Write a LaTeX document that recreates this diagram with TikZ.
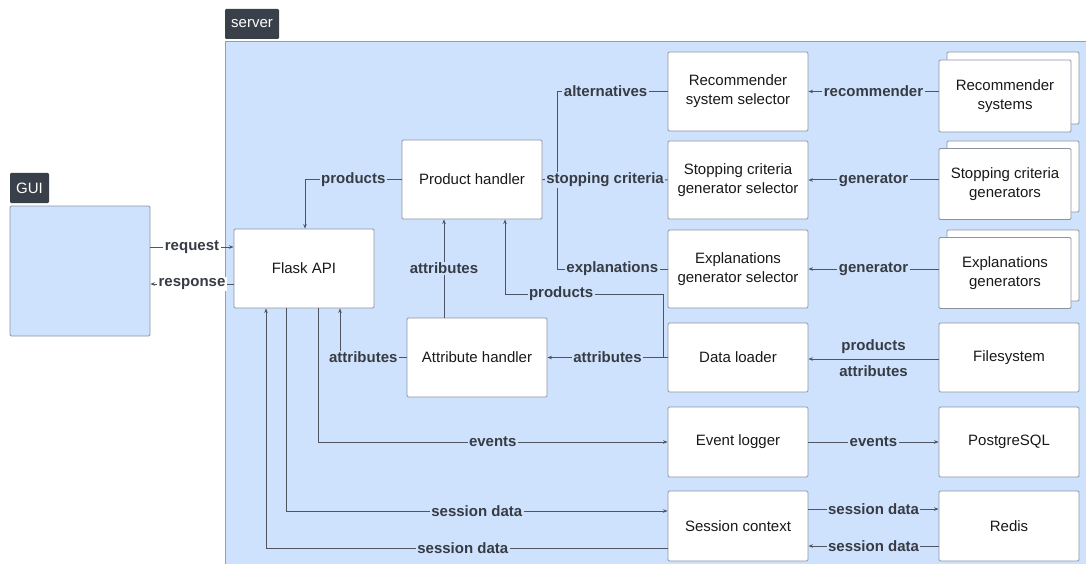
\documentclass[tikz,border=0pt]{standalone}
\usepackage{fontspec}
\setmainfont{Liberation Sans}
\usetikzlibrary{arrows.meta}
\definecolor{bluebg}{RGB}{207,226,253}
\definecolor{tabfill}{RGB}{58,64,74}
\definecolor{frameline}{RGB}{150,158,170}
\definecolor{boxline}{RGB}{140,148,160}
\definecolor{wire}{RGB}{78,84,97}
\definecolor{lbltext}{RGB}{55,59,67}
\definecolor{boxtext}{RGB}{25,25,25}
\tikzset{
  box/.style={draw=boxline, line width=0.9pt, fill=white, rounded corners=1.2pt,
    align=center, text=boxtext, font=\fontsize{15}{19}\selectfont,
    minimum width=140pt, inner sep=0pt},
  backbox/.style={draw=boxline, line width=0.9pt, fill=white, rounded corners=1.2pt},
  tab/.style={fill=tabfill, rounded corners=1.2pt, text=white,
    font=\fontsize{15}{18}\selectfont, inner sep=0pt, minimum height=30pt},
  conn/.style={draw=wire, line width=1pt},
  arr/.style={conn, -{Stealth[length=4.5pt,width=3.5pt]}},
  lbl/.style={fill=bluebg, inner xsep=1.5pt, inner ysep=1pt, text=lbltext,
    font=\fontsize{15}{18}\selectfont\bfseries},
  outlbl/.style={lbl, fill=white},
  plainlbl/.style={text=lbltext, inner sep=0pt, anchor=base,
    font=\fontsize{15}{18}\selectfont\bfseries}
}
\begin{document}
\begin{tikzpicture}[x=1pt,y=-1pt]
\useasboundingbox (0,0) rectangle (1086,564);

% containers
\fill[bluebg, draw=frameline, line width=1pt] (225,42) rectangle (1095,575);
\node[tab, minimum width=54pt] (servertab) at (252,24) {server};
\node[tab, minimum width=39pt] (guitab) at (29.5,188) {GUI};
\node[draw=boxline, line width=0.9pt, fill=bluebg, rounded corners=1.2pt,
  minimum width=140pt, minimum height=130pt] (gui) at (80,271) {};

% inner components
\node[box, minimum height=79pt] (flask) at (304,268.5) {Flask API};
\node[box, minimum height=79pt] (prod) at (472,179.5) {Product handler};
\node[box, minimum height=79pt] (attr) at (477,357.5) {Attribute handler};
\node[box, minimum height=79pt] (recsel) at (738,91.5) {Recommender\\system selector};
\node[box, minimum height=78pt] (stopsel) at (738,180) {Stopping criteria\\generator selector};
\node[box, minimum height=78pt] (explsel) at (738,269) {Explanations\\generator selector};
\node[box, minimum height=69pt] (loader) at (738,357.5) {Data loader};
\node[box, minimum height=70pt] (logger) at (738,442) {Event logger};
\node[box, minimum height=70pt] (session) at (738,526) {Session context};

% stacked plug-in collections
\draw[backbox] (947,52) rectangle (1079,124);
\node[box, minimum width=132pt, minimum height=72pt] (recsys) at (1005,96) {Recommender\\systems};
\draw[backbox] (947,141) rectangle (1079,212);
\node[box, minimum width=132pt, minimum height=71pt] (stopgen) at (1005,184) {Stopping criteria\\generators};
\draw[backbox] (947,230) rectangle (1079,301);
\node[box, minimum width=132pt, minimum height=71pt] (explgen) at (1005,273) {Explanations\\generators};

% storage
\node[box, minimum height=69pt] (fs) at (1009,357.5) {Filesystem};
\node[box, minimum height=70pt] (pg) at (1009,442) {PostgreSQL};
\node[box, minimum height=70pt] (redis) at (1009,526) {Redis};

% GUI <-> Flask
\draw[arr] (gui.east |- 0,247) -- node[outlbl]{request} (flask.west |- 0,247);
\draw[arr] (flask.west |- 0,284) -- node[outlbl]{response} (gui.east |- 0,284);

% Product handler -> Flask
\draw[arr] (prod.west) -- node[lbl, pos=0.5]{products} (305,179.5) -- (flask.north -| 305,0);

% selectors -> Product handler
\draw[conn] (recsel.west) -- node[lbl, pos=0.56]{alternatives} (557,91.5) -- (557,269)
  -- node[lbl]{explanations} (explsel.west);
\draw[conn] (prod.east) -- node[lbl]{stopping criteria} (stopsel.west);

% plug-ins -> selectors
\draw[arr] (recsys.west |- recsel.east) -- node[lbl]{recommender} (recsel.east);
\draw[arr] (stopgen.west |- stopsel.east) -- node[lbl]{generator} (stopsel.east);
\draw[arr] (explgen.west |- explsel.east) -- node[lbl]{generator} (explsel.east);

% Filesystem -> Data loader
\draw[arr] (fs.west |- 0,359) -- node[plainlbl, yshift=9pt]{products}
  node[plainlbl, yshift=-17pt]{attributes} (loader.east |- 0,359);

% Data loader -> handlers
\draw[arr] (loader.west) -- (663,357.5) -- (663,294) -- node[lbl, pos=0.645]{products} (505,294)
  -- (prod.south -| 505,0);
\draw[arr] (loader.west) -- node[lbl]{attributes} (attr.east);
\draw[arr] (attr.north -| 444,0) -- node[lbl]{attributes} (prod.south -| 444,0);
\draw[arr] (attr.west) -- node[lbl, pos=0.65]{attributes} (340,357.5) -- (flask.south -| 340,0);

% Flask -> logging / session
\draw[arr] (flask.south -| 318,0) -- (318,442) -- node[lbl]{events} (logger.west);
\draw[arr] (flask.south -| 286,0) -- (286,511) -- node[lbl]{session data} (session.west |- 0,511);
\draw[arr] (session.west |- 0,548) -- node[lbl, pos=0.51]{session data} (266,548) -- (flask.south -| 266,0);

% services -> storage
\draw[arr] (logger.east) -- node[lbl]{events} (pg.west);
\draw[arr] (session.east |- 0,509) -- node[lbl]{session data} (redis.west |- 0,509);
\draw[arr] (redis.west |- 0,546) -- node[lbl]{session data} (session.east |- 0,546);
\end{tikzpicture}
\end{document}
